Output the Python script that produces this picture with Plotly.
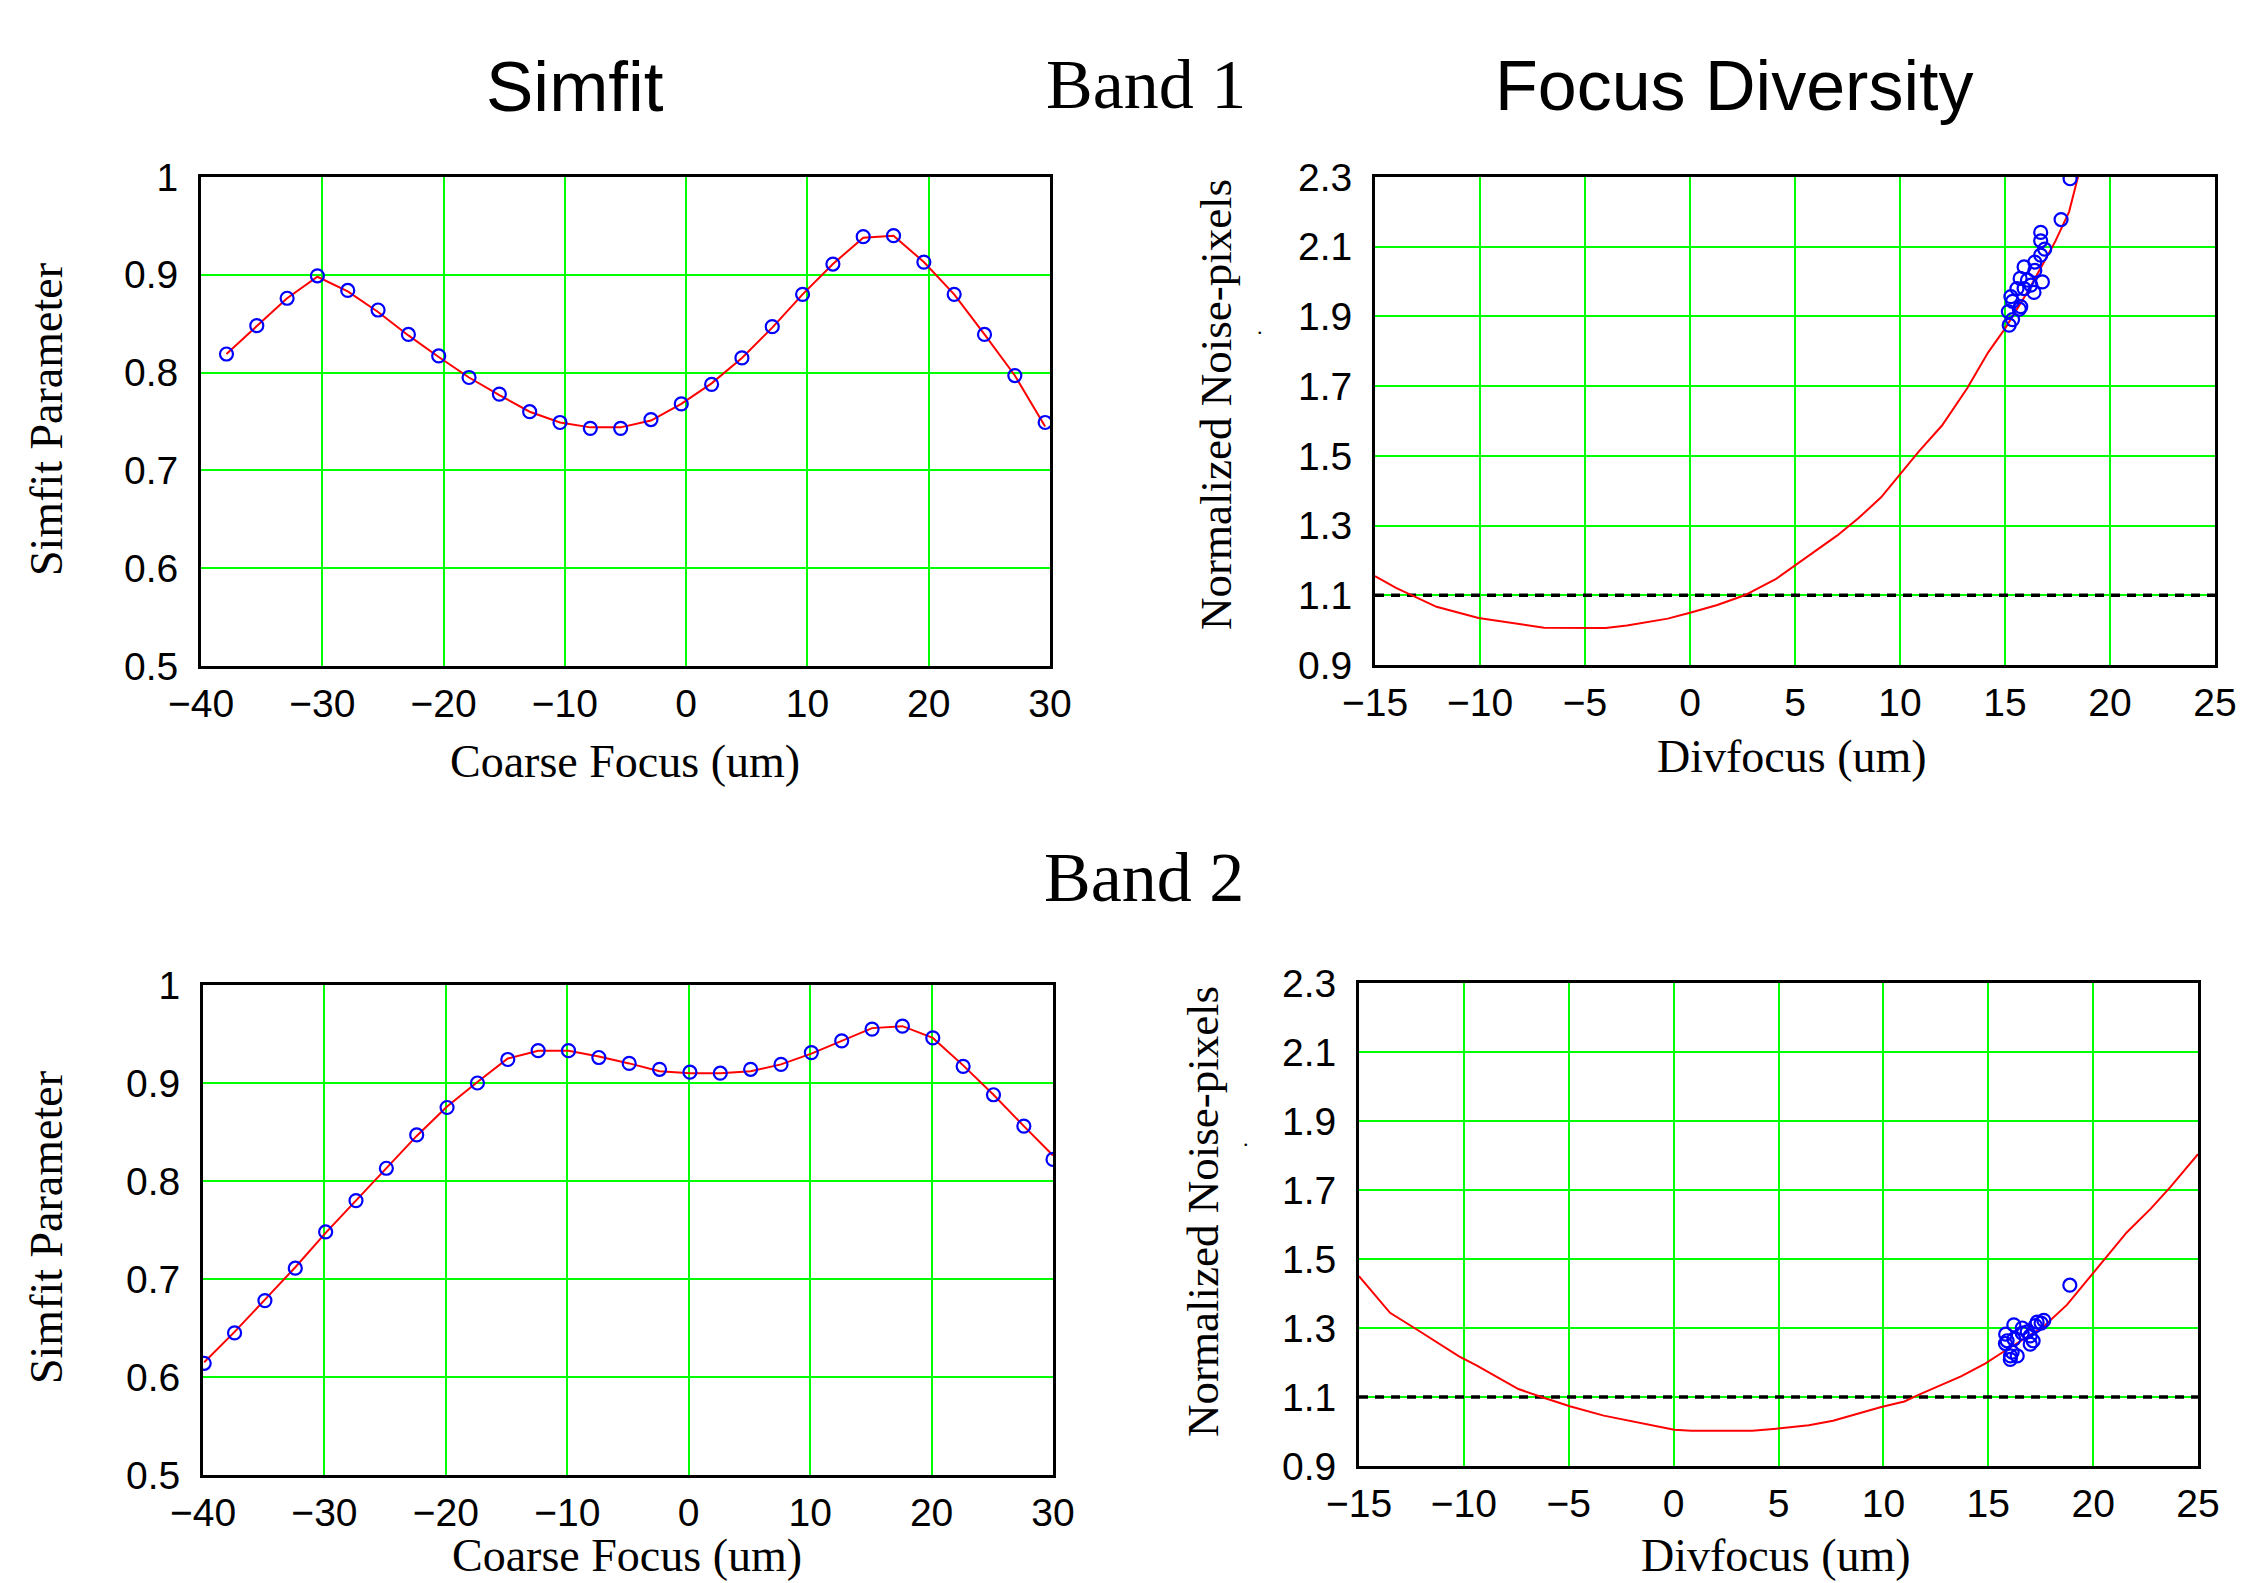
import plotly.graph_objects as go

W, H = 2243, 1583

# ---------------- Band 1 : Simfit ----------------
b1_simfit_x = [-37.9, -35.4, -32.9, -30.4, -27.9, -25.4, -22.9, -20.4, -17.9, -15.4,
               -12.9, -10.4, -7.9, -5.4, -2.9, -0.4, 2.1, 4.6, 7.1, 9.6,
               12.1, 14.6, 17.1, 19.6, 22.1, 24.6, 27.1, 29.6]
b1_simfit_y = [0.819, 0.848, 0.876, 0.899, 0.884, 0.864, 0.839, 0.817, 0.795, 0.778,
               0.760, 0.749, 0.743, 0.743, 0.752, 0.768, 0.788, 0.815, 0.847, 0.880,
               0.911, 0.939, 0.940, 0.913, 0.880, 0.839, 0.797, 0.749]
b1_simfit_fit = [0.819, 0.848, 0.876, 0.898, 0.883, 0.862, 0.838, 0.816, 0.795, 0.777,
                 0.760, 0.749, 0.744, 0.744, 0.751, 0.768, 0.789, 0.815, 0.846, 0.880,
                 0.911, 0.938, 0.940, 0.913, 0.880, 0.839, 0.797, 0.745]

# ---------------- Band 2 : Simfit ----------------
b2_simfit_x = [-39.9, -37.4, -34.9, -32.4, -29.9, -27.4, -24.9, -22.4, -19.9, -17.4,
               -14.9, -12.4, -9.9, -7.4, -4.9, -2.4, 0.1, 2.6, 5.1, 7.6,
               10.1, 12.6, 15.1, 17.6, 20.1, 22.6, 25.1, 27.6, 30.0]
b2_simfit_y = [0.614, 0.645, 0.678, 0.711, 0.748, 0.780, 0.813, 0.847, 0.875, 0.900,
               0.924, 0.933, 0.933, 0.926, 0.920, 0.914, 0.911, 0.910, 0.914, 0.919,
               0.931, 0.943, 0.955, 0.958, 0.946, 0.917, 0.888, 0.856, 0.822]
b2_simfit_fit = [0.615, 0.646, 0.679, 0.712, 0.747, 0.780, 0.813, 0.846, 0.876, 0.901,
                 0.925, 0.933, 0.933, 0.927, 0.920, 0.912, 0.910, 0.910, 0.912, 0.919,
                 0.930, 0.943, 0.956, 0.958, 0.946, 0.918, 0.888, 0.856, 0.826]

# ---------------- Band 1 : Focus diversity ----------------
b1_curve_x = [-15.0, -14.0, -12.07, -10.07, -6.95, -4.02, -3.0, -1.06, 0.0, 1.3,
              2.6, 4.1, 7.0, 8.0, 9.1, 10.0, 10.9, 12.0, 13.2, 14.2,
              15.0, 16.1, 17.4, 18.05, 18.5, 18.9]
b1_curve_y = [1.155, 1.121, 1.067, 1.035, 1.007, 1.006, 1.013, 1.033, 1.050, 1.072,
              1.100, 1.147, 1.271, 1.320, 1.381, 1.447, 1.513, 1.587, 1.694, 1.797,
              1.865, 1.973, 2.116, 2.200, 2.300, 2.400]
b1_meas_x = [18.10, 17.67, 16.70, 16.70, 16.89, 16.70, 16.42, 15.91, 16.42, 16.78,
             15.72, 16.07, 16.23, 15.91, 16.38, 15.57, 15.28, 15.36, 15.75, 15.68,
             15.16, 15.36, 15.20]
b1_meas_y = [2.295, 2.178, 2.141, 2.117, 2.093, 2.076, 2.056, 2.042, 2.032, 1.999,
             2.009, 2.004, 1.990, 1.980, 1.969, 1.980, 1.957, 1.943, 1.928, 1.921,
             1.914, 1.891, 1.875]

# ---------------- Band 2 : Focus diversity ----------------
b2_curve_x = [-15.0, -13.52, -12.15, -10.23, -9.4, -7.4, -6.3, -4.95, -3.33, -1.4,
              0.03, 0.85, 3.75, 4.9, 6.45, 7.6, 9.9, 11.0, 11.7, 13.7,
              14.85, 15.8, 17.6, 18.75, 19.8, 21.6, 22.75, 23.7, 25.0]
b2_curve_y = [1.450, 1.344, 1.292, 1.218, 1.192, 1.123, 1.100, 1.073, 1.046, 1.022,
              1.005, 1.002, 1.002, 1.008, 1.018, 1.031, 1.071, 1.087, 1.107, 1.160,
              1.197, 1.234, 1.302, 1.367, 1.445, 1.577, 1.646, 1.710, 1.804]
b2_meas_x = [18.89, 17.65, 17.52, 17.33, 17.25, 16.86, 16.62, 16.22, 15.83, 15.90,
             16.22, 17.00, 17.14, 17.00, 16.14, 16.38, 16.06, 16.05, 15.82, 16.62]
b2_meas_y = [1.424, 1.322, 1.314, 1.317, 1.307, 1.289, 1.285, 1.309, 1.282, 1.263,
             1.268, 1.277, 1.263, 1.253, 1.230, 1.219, 1.219, 1.209, 1.255, 1.300]

threshold = 1.1

# tick definitions
simfit_x_ticks = [-40, -30, -20, -10, 0, 10, 20, 30]
simfit_y_ticks = [0.5, 0.6, 0.7, 0.8, 0.9, 1.0]
simfit_y_text = ["0.5", "0.6", "0.7", "0.8", "0.9", "1"]
div_x_ticks = [-15, -10, -5, 0, 5, 10, 15, 20, 25]
div_y_ticks = [0.9, 1.1, 1.3, 1.5, 1.7, 1.9, 2.1, 2.3]
div_y_text = ["0.9", "1.1", "1.3", "1.5", "1.7", "1.9", "2.1", "2.3"]

RED = "#ff0000"
BLUE = "#0000ff"
GREEN = "#00ff00"


def fx(px):
    return px / W


def fy(py):
    return 1 - py / H


def minus_labels(vals):
    return [str(v) if v >= 0 else "\u2212" + str(-v) for v in vals]


fig = go.Figure()

MARKER = dict(symbol="circle-open", size=13, color=BLUE, line=dict(width=2.2, color=BLUE))


def add_simfit(x, y, fit, xa, ya):
    fig.add_trace(go.Scatter(x=x, y=fit, mode="lines", line=dict(color=RED, width=2),
                             xaxis=xa, yaxis=ya, showlegend=False))
    fig.add_trace(go.Scatter(x=x, y=y, mode="markers", marker=MARKER,
                             xaxis=xa, yaxis=ya, showlegend=False))


def add_div(cx, cy, mx, my, xa, ya):
    fig.add_trace(go.Scatter(x=[div_x_ticks[0], div_x_ticks[-1]], y=[threshold, threshold],
                             mode="lines", line=dict(color="black", width=3.6, dash="9px,7px"),
                             xaxis=xa, yaxis=ya, showlegend=False))
    fig.add_trace(go.Scatter(x=cx, y=cy, mode="lines", line=dict(color=RED, width=2),
                             xaxis=xa, yaxis=ya, showlegend=False))
    fig.add_trace(go.Scatter(x=mx, y=my, mode="markers", marker=MARKER,
                             xaxis=xa, yaxis=ya, showlegend=False))


add_simfit(b1_simfit_x, b1_simfit_y, b1_simfit_fit, "x", "y")
add_div(b1_curve_x, b1_curve_y, b1_meas_x, b1_meas_y, "x2", "y2")
add_simfit(b2_simfit_x, b2_simfit_y, b2_simfit_fit, "x3", "y3")
add_div(b2_curve_x, b2_curve_y, b2_meas_x, b2_meas_y, "x4", "y4")

tickfont = dict(family="Liberation Sans, Arial, sans-serif", size=39, color="black")


def axis(domain, rng, tickvals, ticktext, anchor, is_y=False):
    return dict(domain=domain, range=rng, tickvals=tickvals, ticktext=ticktext,
                anchor=anchor, showgrid=True, gridcolor=GREEN, gridwidth=2.4,
                showline=True, linecolor="black", linewidth=3, mirror=True,
                zeroline=False, ticks="outside", ticklen=12 if is_y else 1,
                tickcolor="rgba(0,0,0,0)", tickfont=tickfont, fixedrange=True,
                automargin=False)


# plot boxes in pixels (left, right, top, bottom)
TL = (201, 1050, 177, 666)
TR = (1375, 2215, 177, 665)
BL = (203, 1053, 985, 1475)
BR = (1359, 2198, 983, 1466)


def dom(box):
    x0, x1, y0, y1 = box
    return [fx(x0), fx(x1)], [fy(y1), fy(y0)]


layout_axes = {}
d = dom(TL)
layout_axes["xaxis"] = axis(d[0], [-40, 30], simfit_x_ticks, minus_labels(simfit_x_ticks), "y")
layout_axes["yaxis"] = axis(d[1], [0.5, 1.0], simfit_y_ticks, simfit_y_text, "x", True)
d = dom(TR)
layout_axes["xaxis2"] = axis(d[0], [-15, 25], div_x_ticks, minus_labels(div_x_ticks), "y2")
layout_axes["yaxis2"] = axis(d[1], [0.9, 2.3], div_y_ticks, div_y_text, "x2", True)
d = dom(BL)
layout_axes["xaxis3"] = axis(d[0], [-40, 30], simfit_x_ticks, minus_labels(simfit_x_ticks), "y3")
layout_axes["yaxis3"] = axis(d[1], [0.5, 1.0], simfit_y_ticks, simfit_y_text, "x3", True)
d = dom(BR)
layout_axes["xaxis4"] = axis(d[0], [-15, 25], div_x_ticks, minus_labels(div_x_ticks), "y4")
layout_axes["yaxis4"] = axis(d[1], [0.9, 2.3], div_y_ticks, div_y_text, "x4", True)

SANS = "Liberation Sans, Arial, sans-serif"
SERIF = "Liberation Serif, Times New Roman, serif"

annotations = []


def ann(text, px, py, size, family, angle=0, xanchor="center", yanchor="middle"):
    annotations.append(dict(text=text, x=fx(px), y=fy(py), xref="paper", yref="paper",
                            showarrow=False, textangle=angle, xanchor=xanchor, yanchor=yanchor,
                            font=dict(family=family, size=size, color="black")))


# headings
ann("Simfit", 575, 86, 71, SANS)
ann("Band 1", 1146, 84, 70, SERIF)
ann("Focus Diversity", 1734, 86, 70, SANS)
ann("Band 2", 1144, 877, 70, SERIF)

# axis titles
ann("Coarse Focus (um)", 625, 762, 46, SERIF)
ann("Divfocus (um)", 1792, 757, 46, SERIF)
ann("Coarse Focus (um)", 627, 1583, 46, SERIF, yanchor="bottom")
ann("Divfocus (um)", 1776, 1583, 46, SERIF, yanchor="bottom")
ann("Simfit Parameter", 46, 420, 46, SERIF, angle=-90)
ann("Simfit Parameter", 46, 1228, 46, SERIF, angle=-90)
ann("Normalized Noise-pixels", 1216, 405, 45, SERIF, angle=-90)
ann("Normalized Noise-pixels", 1203, 1212, 45, SERIF, angle=-90)
ann(".", 1260, 326, 22, SERIF)
ann(".", 1246, 1138, 22, SERIF)

fig.update_layout(
    width=W, height=H,
    margin=dict(l=0, r=0, t=0, b=0, autoexpand=False),
    paper_bgcolor="white", plot_bgcolor="white",
    showlegend=False,
    annotations=annotations,
    **layout_axes,
)

fig.write_html("out.html", config={"displayModeBar": False},
               post_script="document.body.style.margin='0';document.body.style.overflow='hidden';")
